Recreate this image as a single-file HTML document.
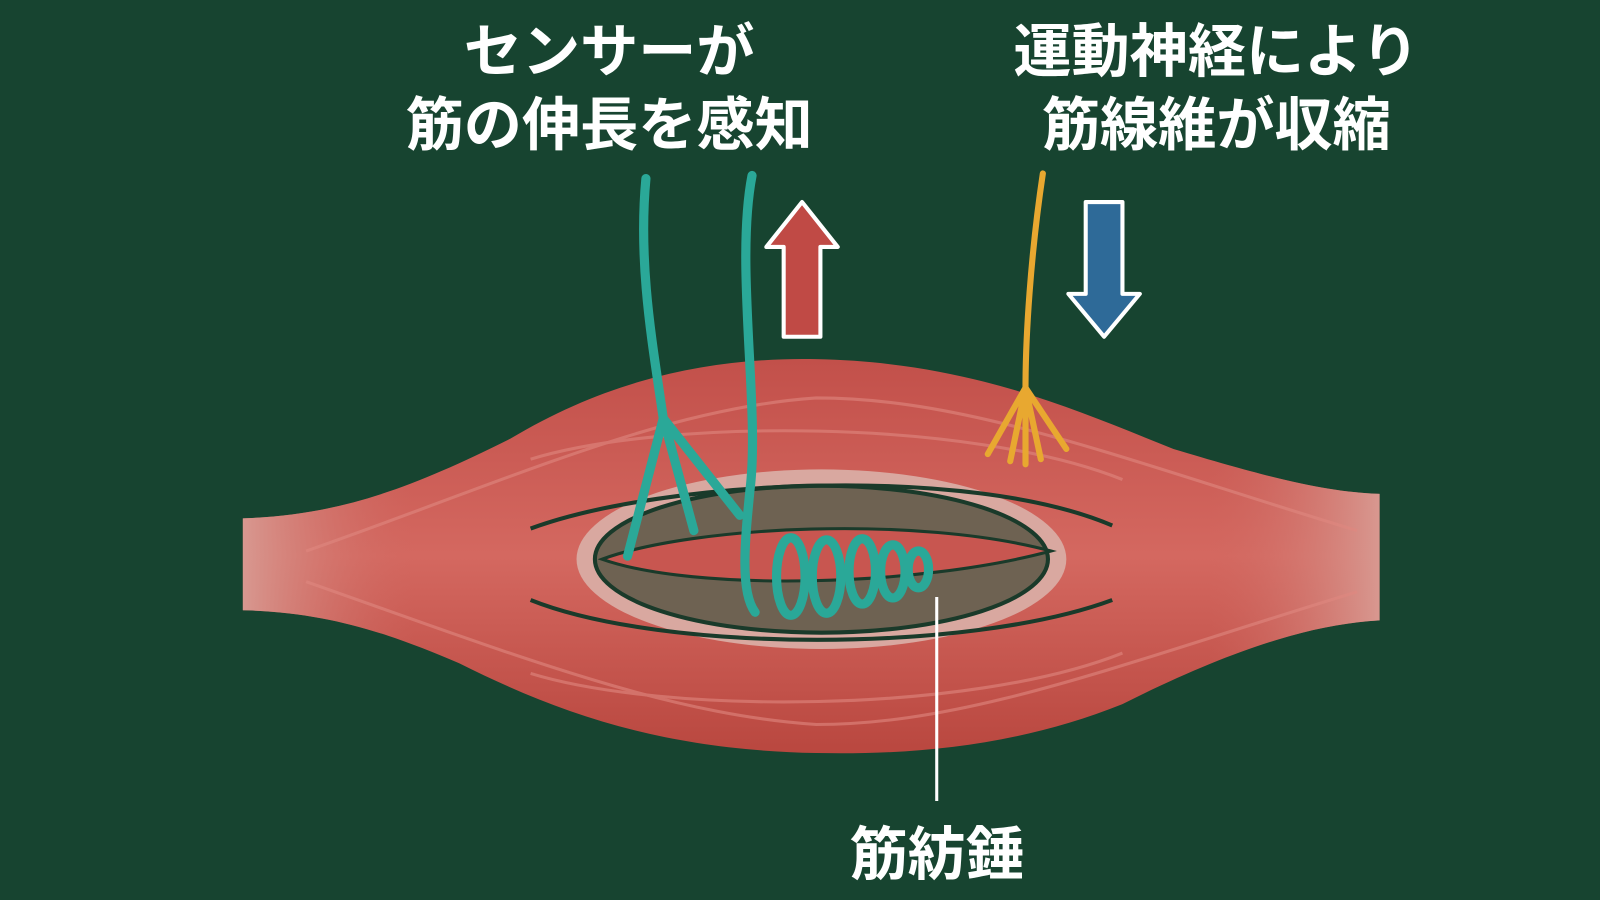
<!DOCTYPE html>
<html><head><meta charset="utf-8"><style>
html,body{margin:0;padding:0;background:#174430;}
svg{display:block}
text{font-family:"Liberation Sans","Noto Sans CJK JP",sans-serif;font-weight:bold;fill:#fff;text-anchor:middle}
</style></head><body>
<svg width="1600" height="900" viewBox="0 0 1568 882" preserveAspectRatio="none" xmlns="http://www.w3.org/2000/svg">
<defs>
<linearGradient id="m" x1="0" y1="0" x2="0" y2="1">
<stop offset="0" stop-color="#c2504a"/><stop offset="0.5" stop-color="#d46860"/><stop offset="1" stop-color="#b9473f"/>
</linearGradient>
<linearGradient id="t" x1="0" y1="0" x2="1" y2="0">
<stop offset="0" stop-color="#d89890"/><stop offset="0.15" stop-color="#cf6a62" stop-opacity="0"/>
<stop offset="0.85" stop-color="#cf6a62" stop-opacity="0"/><stop offset="1" stop-color="#d89890"/>
</linearGradient>
</defs>
<rect width="1568" height="882" fill="#174430"/>
<path d="M238,508 C330,505 400,480 500,430 C600,370 700,350 800,352 C950,355 1050,400 1150,440 C1250,470 1300,482 1352,484 L1352,608 C1280,612 1200,640 1100,690 C1000,730 900,740 800,738 C650,735 550,700 450,650 C380,620 320,600 238,598 Z" fill="url(#m)"/>
<path d="M238,508 C330,505 400,480 500,430 C600,370 700,350 800,352 C950,355 1050,400 1150,440 C1250,470 1300,482 1352,484 L1352,608 C1280,612 1200,640 1100,690 C1000,730 900,740 800,738 C650,735 550,700 450,650 C380,620 320,600 238,598 Z" fill="url(#t)"/>
<g stroke="#e08880" stroke-width="3" fill="none" opacity="0.6">
<path d="M300,540 C500,470 650,400 800,390 C950,390 1100,450 1330,520"/>
<path d="M300,570 C500,640 650,700 800,710 C950,710 1100,650 1330,580"/>
<path d="M520,450 C650,410 950,410 1100,470"/>
<path d="M520,660 C650,700 950,700 1100,640"/>
</g>
<ellipse cx="805" cy="548" rx="240" ry="88" fill="#d9a8a0"/>
<ellipse cx="805" cy="548" rx="222" ry="72" fill="#6e6252" stroke="#1a3a2a" stroke-width="4"/>
<path d="M520,518 C650,470 950,455 1090,515" stroke="#1a3a2a" stroke-width="4" fill="none"/>
<path d="M520,588 C650,640 950,640 1090,588" stroke="#1a3a2a" stroke-width="4" fill="none"/>
<path d="M590,548 C680,515 900,505 1030,540 C900,575 680,580 590,548 Z" fill="#c85650" stroke="#1a3a2a" stroke-width="3"/>
<g stroke="#2aa898" stroke-width="9" fill="none" stroke-linecap="round">
<path d="M633,175 C625,260 640,340 650,410 L615,545 M650,410 L680,520 M650,410 L725,505"/>
<path d="M737,172 C720,260 745,400 735,480 C730,530 725,580 740,600"/>
<ellipse cx="775" cy="565" rx="14" ry="38"/>
<ellipse cx="810" cy="565" rx="14" ry="36"/>
<ellipse cx="845" cy="560" rx="13" ry="32"/>
<ellipse cx="875" cy="560" rx="12" ry="26"/>
<ellipse cx="900" cy="558" rx="10" ry="18"/>
</g>
<g stroke="#e8a830" stroke-width="6" fill="none" stroke-linecap="round">
<path d="M1022,170 C1010,250 1005,330 1005,380 L968,445 M1005,380 L990,452 M1005,380 L1005,455 M1005,380 L1020,450 M1005,380 L1045,440"/>
</g>
<path d="M768,330 L768,242 L751,242 L786,198 L821,242 L804,242 L804,330 Z" fill="#c04a45" stroke="#fff" stroke-width="4" stroke-linejoin="round"/>
<path d="M1064,198 L1064,288 L1047,288 L1082,330 L1117,288 L1100,288 L1100,198 Z" fill="#2e6a98" stroke="#fff" stroke-width="4" stroke-linejoin="round"/>
<line x1="918" y1="585" x2="918" y2="785" stroke="#fff" stroke-width="3"/>
<text x="597" y="70" font-size="57">センサーが</text>
<text x="597" y="142" font-size="57">筋の伸長を感知</text>
<text x="1192" y="70" font-size="57">運動神経により</text>
<text x="1192" y="142" font-size="57">筋線維が収縮</text>
<text x="918" y="857" font-size="57">筋紡錘</text>
</svg>
</body></html>
